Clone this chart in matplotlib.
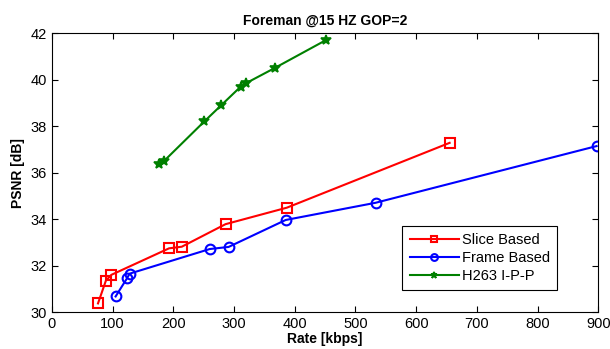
import matplotlib
matplotlib.use("Agg")
import matplotlib.pyplot as plt

plt.rcParams["font.family"] = ["Liberation Sans", "DejaVu Sans"]

# Slice based
slice_rate = [76, 89, 98, 193, 214, 286, 387, 655]
slice_psnr = [30.37, 31.35, 31.6, 32.74, 32.81, 33.78, 34.49, 37.28]

# Frame based
frame_rate = [105, 124, 128, 260, 291, 385, 533, 897]
frame_psnr = [30.67, 31.46, 31.65, 32.71, 32.8, 33.96, 34.7, 37.14]

# H263 I-P-P
h263_rate = [176, 184, 251, 279, 311, 320, 367, 452]
h263_psnr = [36.38, 36.48, 38.2, 38.9, 39.7, 39.85, 40.5, 41.71]

fig = plt.figure(figsize=(6.1, 3.49), dpi=100)
ax = fig.add_axes([0.085, 0.106, 0.896, 0.799])

ax.plot(slice_rate, slice_psnr, color="#ff0000", lw=1.5, marker="s",
        ms=7, mfc="none", mew=1.5, label="Slice Based")
ax.plot(frame_rate, frame_psnr, color="#0000ff", lw=1.5, marker="o",
        ms=7, mfc="none", mew=1.5, label="Frame Based")
ax.plot(h263_rate, h263_psnr, color="#008000", lw=1.5, marker="*",
        ms=7, mew=1.2, label="H263 I-P-P")

ax.set_xlim(0, 900)
ax.set_ylim(30, 42)
ax.set_xticks(range(0, 901, 100))
ax.set_yticks(range(30, 43, 2))
ax.tick_params(direction="in", top=True, right=True, labelsize=10.5, length=4)
ax.set_xlabel("Rate [kbps]", fontweight="bold", fontsize=10, labelpad=1)
ax.set_ylabel("PSNR [dB]", fontweight="bold", fontsize=10, labelpad=4)
ax.set_title("Foreman @15 HZ GOP=2", fontweight="bold", fontsize=10, pad=6)

leg = ax.legend(loc="lower right", bbox_to_anchor=(0.925, 0.079), borderaxespad=0,
                fontsize=10.5, fancybox=False, edgecolor="black", framealpha=1,
                handlelength=3.4, borderpad=0.5, labelspacing=0.25,
                handletextpad=0.2, markerscale=0.7)
leg.get_frame().set_linewidth(0.8)

fig.savefig("out.png", dpi=100)
